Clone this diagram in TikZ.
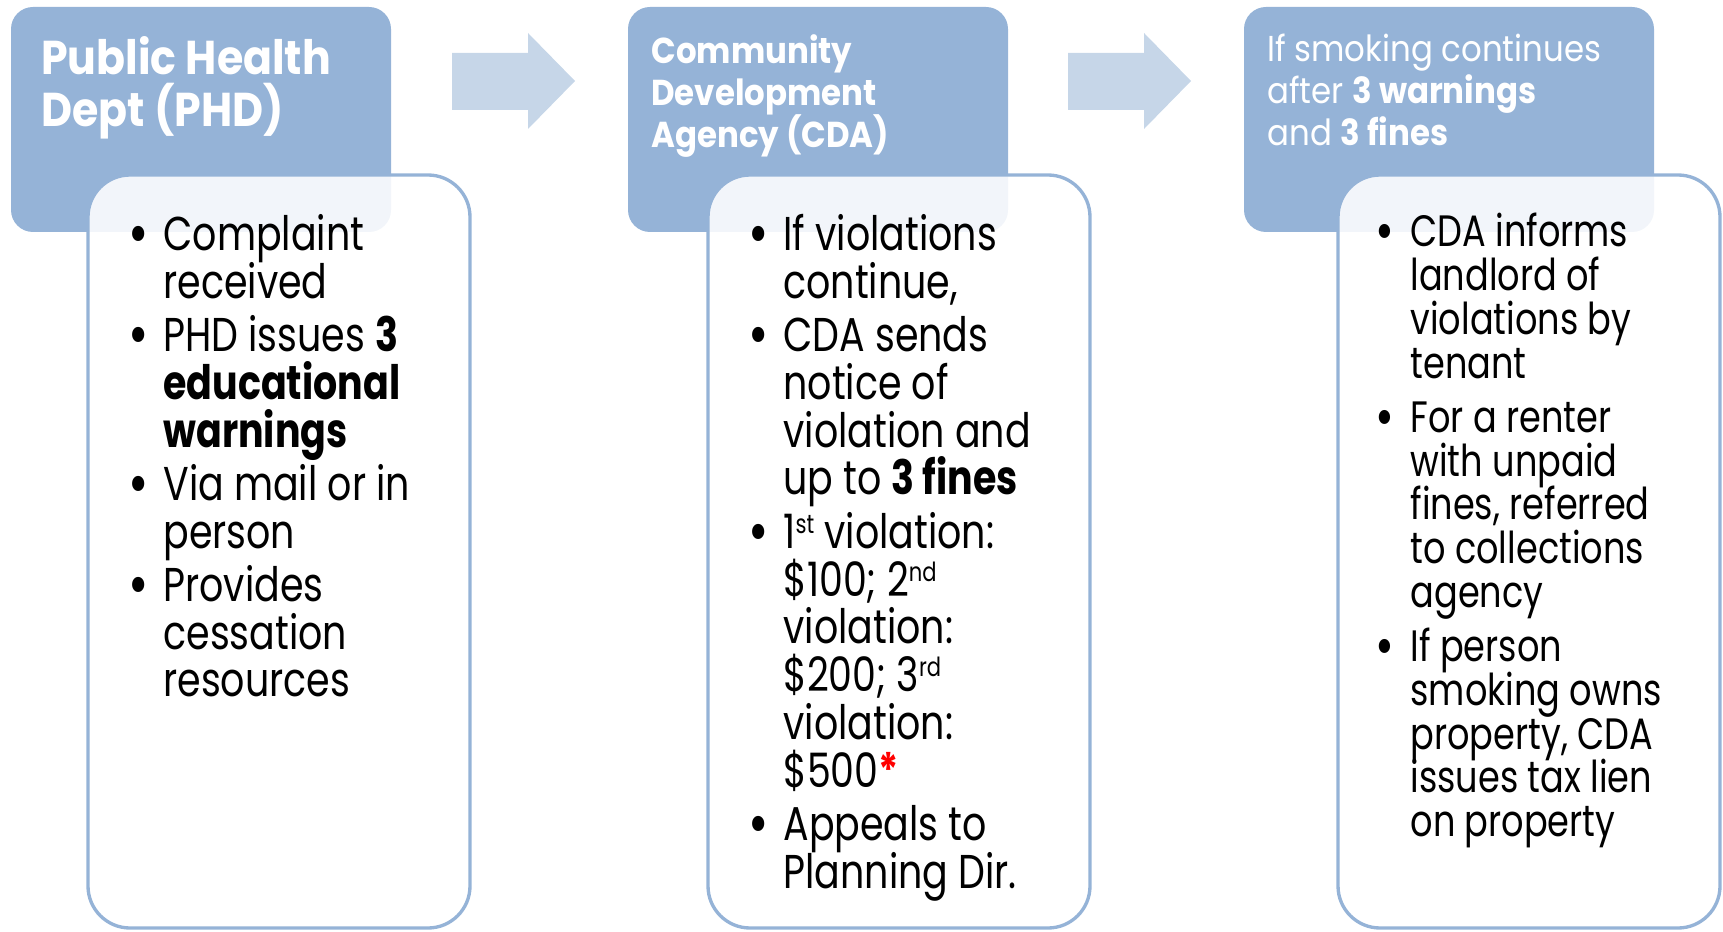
\documentclass[tikz,border=0pt]{standalone}
\usepackage{fontspec}
\setmainfont[FakeStretch=0.8]{Poppins}
\newfontfamily\hdrfont[FakeStretch=0.9]{Poppins}
\usepackage{tikz}
\usetikzlibrary{positioning}
\definecolor{hdrblue}{HTML}{95B3D7}
\definecolor{arrowblue}{HTML}{C6D6E8}
\tikzstyle{hdrtext} = [anchor=north west, align=left, inner sep=0pt, text=white]
\tikzstyle{bodytext} = [anchor=north west, align=left, inner sep=0pt, text=black]
\tikzstyle{bodybox} = [draw=hdrblue, line width=1.9pt, fill=white, fill opacity=0.88, rounded corners=0.84cm]
\tikzstyle{hdrbox} = [fill=hdrblue, rounded corners=0.44cm]
\newcommand{\bitem}{\makebox[20pt][l]{\raisebox{-0.09em}{\scalebox{1.3}{\textbullet}}}}
\newcommand{\bcont}{\hspace*{20pt}}
\newcommand{\ord}[1]{\raisebox{8.5pt}{\fontsize{15}{15}\selectfont #1}}
\setlength{\lineskiplimit}{-100pt}

\begin{document}
\begin{tikzpicture}[x=0.02cm,y=-0.02cm]
	\useasboundingbox (0,0) rectangle (1723,932);
	%headers
	\fill[hdrbox] (11,7) rectangle (391,232);
	\fill[hdrbox] (628,7) rectangle (1008,232);
	\fill[hdrbox] (1244,7) rectangle (1654,232);
	%bodies
	\draw[bodybox] (88,175) rectangle (470,928);
	\draw[bodybox] (708,175) rectangle (1090,928);
	\draw[bodybox] (1338,175) rectangle (1720,928);
	%arrows
	\fill[arrowblue] (452,53) -- (528,53) -- (528,33) -- (575,81) -- (528,129) -- (528,110) -- (452,110) -- cycle;
	\fill[arrowblue] (1068,53) -- (1144,53) -- (1144,33) -- (1191,81) -- (1144,129) -- (1144,110) -- (1068,110) -- cycle;
	
	\node[hdrtext, font=\hdrfont\bfseries\fontsize{27}{29.6}\selectfont] (phd) at (41,36) {Public Health\\Dept (PHD)};
	\node[hdrtext, font=\hdrfont\bfseries\fontsize{20.5}{23.9}\selectfont] (cda) at (651,34) {Community\\Development\\Agency (CDA)};
	\node[hdrtext, font=\hdrfont\fontsize{20.5}{23.9}\selectfont] (smoke) at (1267,34) {If smoking continues\\after \textbf{3 warnings}\\and \textbf{3 fines}};
	
	\node[bodytext, font=\fontsize{27}{27.2}\selectfont] (phdlist) at (128,214) {%
		\bitem Complaint\\ \bcont received\\[3.1pt]
		\bitem PHD issues \textbf{3}\\ \bcont\textbf{educational}\\ \bcont\textbf{warnings}\\[3.1pt]
		\bitem Via mail or in\\ \bcont person\\[3.1pt]
		\bitem Provides\\ \bcont cessation\\ \bcont resources};
	\node[bodytext, font=\fontsize{27}{27.2}\selectfont] (cdalist) at (748,214) {%
		\bitem If violations\\ \bcont continue,\\[3.1pt]
		\bitem CDA sends\\ \bcont notice of\\ \bcont violation and\\ \bcont up to \textbf{3 fines}\\[3.1pt]
		\bitem 1\ord{st} violation:\\ \bcont \$100; 2\ord{nd}\\ \bcont violation:\\ \bcont \$200; 3\ord{rd}\\ \bcont violation:\\ \bcont \$500{\color{red}\textbf{*}}\\[3.1pt]
		\bitem Appeals to\\ \bcont Planning Dir.};
	\node[bodytext, font=\fontsize{25}{25}\selectfont] (smokelist) at (1375,213) {%
		\bitem CDA informs\\ \bcont landlord of\\ \bcont violations by\\ \bcont tenant\\[5.4pt]
		\bitem For a renter\\ \bcont with unpaid\\ \bcont fines, referred\\ \bcont to collections\\ \bcont agency\\[5.4pt]
		\bitem If person\\ \bcont smoking owns\\ \bcont property, CDA\\ \bcont issues tax lien\\ \bcont on property};
\end{tikzpicture}
\end{document}
